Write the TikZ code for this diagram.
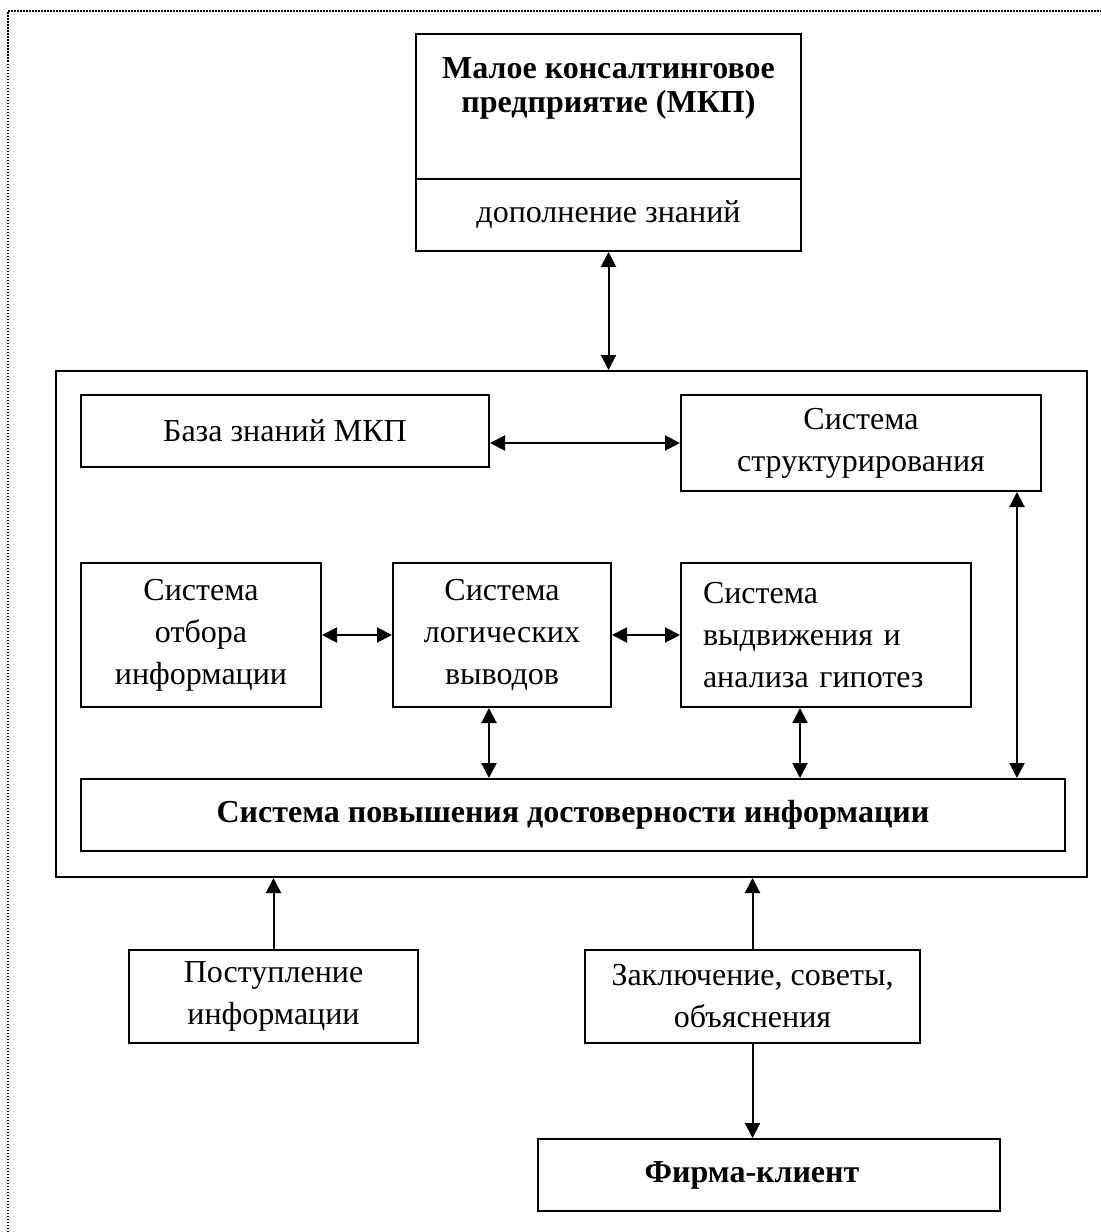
\documentclass[tikz,border=0pt]{standalone}
\usepackage{fontspec}
\setmainfont{Liberation Serif}
\usetikzlibrary{arrows.meta,calc}
\begin{document}
\begin{tikzpicture}[x=1pt,y=-1pt,
  box/.style={draw,line width=2pt,inner sep=0pt,align=center,font=\fontsize{32}{42}\selectfont},
  conn/.style={line width=2pt,{Triangle[length=15pt,width=15pt]}-{Triangle[length=15pt,width=15pt]}},
  oneway/.style={line width=2pt,-{Triangle[length=15pt,width=15pt]}},
  bordr/.style={line width=1.5pt,dash pattern=on 1.5pt off 1.5pt}]
\useasboundingbox (0,0) rectangle (1101,1232);
\draw[bordr] (8,1232) -- (8,11) -- (1101,11);
% top box
\node[box,minimum width=385pt,minimum height=217pt] (top) at (608.5,142.5) {};
\coordinate (d1) at (416,179);
\coordinate (d2) at (801,179);
\draw[line width=2pt] (d1) -- (d2);
\node[anchor=base,inner sep=0pt,font=\fontsize{32}{42}\selectfont\bfseries] (t1) at (608.5,78) {Малое консалтинговое};
\node[anchor=base,inner sep=0pt,font=\fontsize{32}{42}\selectfont\bfseries] (t2) at (608.5,112) {предприятие (МКП)};
\node[inner sep=0pt,font=\fontsize{32}{42}\selectfont] (t3) at (608.5,215) {дополнение знаний};
% big box
\node[box,minimum width=1031pt,minimum height=506pt] (big) at (571.5,624) {};
\node[box,minimum width=408pt,minimum height=72pt] (baza) at (285,431) {База знаний МКП};
\node[box,minimum width=360pt,minimum height=96pt] (str) at (861,443) {Система\\структурирования};
\node[box,minimum width=240pt,minimum height=144pt] (otb) at (201,635) {Система\\отбора\\информации};
\node[box,minimum width=218pt,minimum height=144pt] (log) at (502,635) {Система\\логических\\выводов};
\node[box,minimum width=290pt,minimum height=144pt,text width=246pt,align=left] (vyd) at (826,635) {Система\\выдвижения и\\анализа гипотез};
\node[box,minimum width=984pt,minimum height=72pt,font=\fontsize{32}{42}\selectfont\bfseries] (pov) at (573,815) {Система повышения достоверности информации};
% bottom
\node[box,minimum width=289pt,minimum height=93pt] (post) at (273.5,996.5) {Поступление\\информации};
\node[box,minimum width=335pt,minimum height=93pt] (zakl) at (752.5,996.5) {Заключение, советы,\\объяснения};
\node[box,minimum width=462pt,minimum height=72pt,font=\fontsize{32}{42}\selectfont\bfseries] (firma) at (769,1175) {\hspace*{-34pt}Фирма-клиент};
% connector anchor points
\coordinate (p1) at ($(log.south)+(-13,0)$);
\coordinate (p2) at ($(vyd.south)+(-26,0)$);
\coordinate (p3) at ($(str.south)+(156,0)$);
\coordinate (p4) at (zakl.south);
% connectors
\draw[conn] (top.south) -- (top.south |- big.north);
\draw[conn] (baza.east |- str.west) -- (str.west);
\draw[conn] (otb.east) -- (log.west);
\draw[conn] (log.east) -- (vyd.west);
\draw[conn] (p1) -- (p1 |- pov.north);
\draw[conn] (p2) -- (p2 |- pov.north);
\draw[conn] (p3) -- (p3 |- pov.north);
\draw[oneway] (post.north) -- (post.north |- big.south);
\draw[oneway] (zakl.north) -- (zakl.north |- big.south);
\draw[oneway] (p4) -- (p4 |- firma.north);
\end{tikzpicture}
\end{document}
